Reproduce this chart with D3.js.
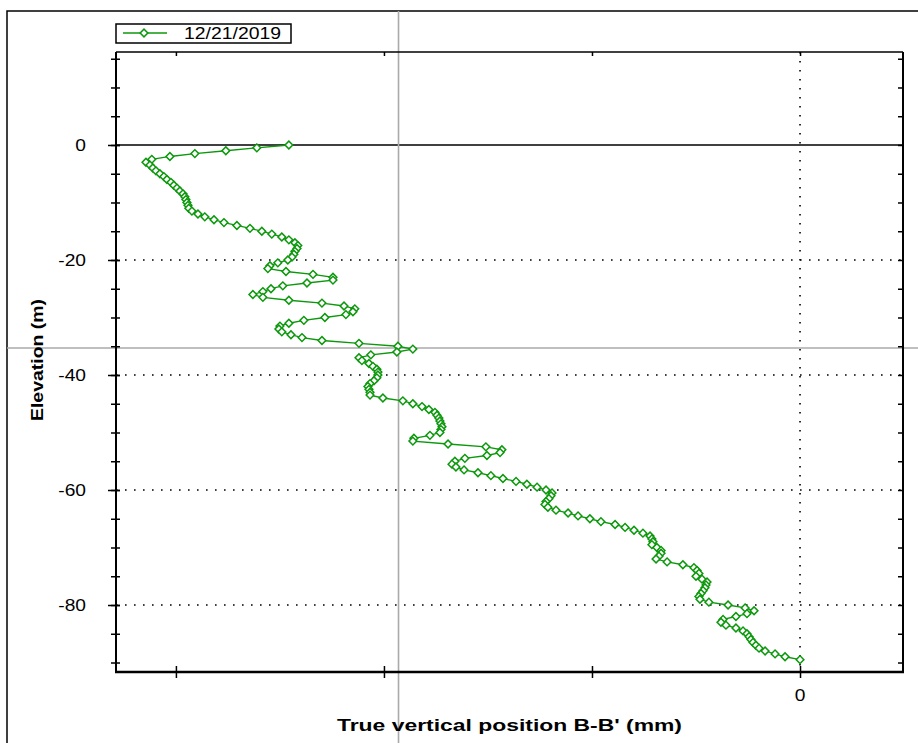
<!DOCTYPE html>
<html><head><meta charset="utf-8">
<script src="https://cdn.jsdelivr.net/npm/d3@7"></script>
<style>
body{margin:0;background:#fff}
svg{display:block}
text{font-family:"Liberation Sans",Arial,sans-serif;fill:#000}
</style>
</head><body>
<svg id="chart" width="918" height="743"></svg>
<script>
// ---------------- data ----------------
const seriesName = "12/21/2019";
const xTitle = "True vertical position B-B' (mm)";
const yTitle = "Elevation (m)";

const elevation = [
  0,-0.5,-1,-1.5,-2,-2.5,-3,-3.5,-4,-4.5,-5,-5.5,-6,-6.5,-7,-7.5,-8,-8.5,-9,-9.5,
  -10,-10.5,-11,-11.5,-12,-12.5,-13,-13.5,-14,-14.5,-15,-15.5,-16,-16.5,-17,-17.5,-18,-18.5,-19,-19.5,
  -20,-20.5,-21,-21.5,-22,-22.5,-23,-23.5,-24,-24.5,-25,-25.5,-26,-26.5,-27,-27.5,-28,-28.5,-29,-29.5,
  -30,-30.5,-31,-31.5,-32,-32.5,-33,-33.5,-34,-34.5,-35,-35.5,-36,-36.5,-37,-37.5,-38,-38.5,-39,-39.5,
  -40,-40.5,-41,-41.5,-42,-42.5,-43,-43.5,-44,-44.5,-45,-45.5,-46,-46.5,-47,-47.5,-48,-48.5,-49,-49.5,
  -50,-50.5,-51,-51.5,-52,-52.5,-53,-53.5,-54,-54.5,-55,-55.5,-56,-56.5,-57,-57.5,-58,-58.5,-59,-59.5,
  -60,-60.5,-61,-61.5,-62,-62.5,-63,-63.5,-64,-64.5,-65,-65.5,-66,-66.5,-67,-67.5,-68,-68.5,-69,-69.5,
  -70,-70.5,-71,-71.5,-72,-72.5,-73,-73.5,-74,-74.5,-75,-75.5,-76,-76.5,-77,-77.5,-78,-78.5,-79,-79.5,
  -80,-80.5,-81,-81.5,-82,-82.5,-83,-83.5,-84,-84.5,-85,-85.5,-86,-86.5,-87,-87.5,-88,-88.5,-89,-89.5
];

const position = [
  -24.57,-26.11,-27.60,-29.09,-30.29,-31.16,-31.44,-31.25,-31.11,-30.96,
  -30.77,-30.58,-30.43,-30.24,-30.10,-29.95,-29.81,-29.66,-29.57,-29.52,
  -29.47,-29.42,-29.38,-29.23,-28.94,-28.61,-28.17,-27.69,-27.07,-26.44,
  -25.87,-25.39,-24.91,-24.57,-24.28,-24.14,-24.18,-24.28,-24.33,-24.42,
  -24.62,-25.10,-25.48,-25.58,-24.71,-23.41,-22.45,-22.45,-23.70,-24.86,
  -25.43,-25.82,-26.30,-25.82,-24.57,-22.98,-21.92,-21.40,-21.49,-21.83,
  -22.84,-23.85,-24.57,-25.00,-25.05,-24.91,-24.47,-23.94,-22.98,-21.20,
  -19.33,-18.61,-19.38,-20.63,-21.20,-21.06,-20.72,-20.53,-20.34,-20.29,
  -20.29,-20.34,-20.48,-20.67,-20.77,-20.72,-20.67,-20.67,-20.05,-19.09,
  -18.61,-18.17,-17.84,-17.55,-17.45,-17.36,-17.31,-17.26,-17.21,-17.26,
  -17.31,-17.79,-18.56,-18.61,-16.92,-15.10,-14.33,-14.42,-15.05,-16.11,
  -16.59,-16.73,-16.54,-16.15,-15.48,-14.86,-14.28,-13.65,-13.13,-12.64,
  -12.21,-11.92,-11.97,-12.07,-12.21,-12.26,-12.12,-11.73,-11.15,-10.67,
  -10.10,-9.57,-8.89,-8.41,-7.98,-7.55,-7.21,-7.12,-7.07,-7.12,
  -6.88,-6.68,-6.68,-6.78,-6.92,-6.39,-5.63,-5.10,-4.95,-4.86,
  -5.00,-4.71,-4.47,-4.52,-4.57,-4.66,-4.76,-4.86,-4.81,-4.38,
  -3.46,-2.64,-2.21,-2.55,-3.08,-3.70,-3.80,-3.56,-3.08,-2.74,
  -2.55,-2.45,-2.36,-2.26,-2.12,-1.97,-1.68,-1.20,-0.72,0
];

const yTickValues = [0,-20,-40,-60,-80];
const yTickLabels = ["0","-20","-40","-60","-80"];
const yMinorValues = [15,10,5,0,-5,-10,-15,-20,-25,-30,-35,-40,-45,-50,-55,-60,-65,-70,-75,-80,-85,-90];
const yGridValues = [-20,-40,-60,-80];
const xTickValues = [-30,-20,-10,0];
const xTickLabels = ["","","","0"];
const xGridValues = [0];
const cursorPosition = [-19.3];
const cursorElevation = [-35.3];
const xDomain = [-32.88, 4.95];
const yDomain = [16.17, -91.65];

// ---------------- layout ----------------
const L = 116, R = 903, T = 52, B = 672;
const green = "#0c980c";
const svg = d3.select("#chart");

const x = d3.scaleLinear().domain(xDomain).range([L, R]);
const y = d3.scaleLinear().domain(yDomain).range([T, B]);

// outer frame
svg.append("path").attr("d", "M7,743V11H918").attr("fill","none").attr("stroke","#000").attr("stroke-width",1.5);

// dotted grid
svg.append("g").selectAll("line").data(yGridValues).join("line")
  .attr("x1", L).attr("x2", R).attr("y1", d=>y(d)).attr("y2", d=>y(d))
  .attr("stroke","#000").attr("stroke-width",1.6).attr("stroke-dasharray","1.6,7.4");
svg.append("g").selectAll("line").data(xGridValues).join("line")
  .attr("x1", d=>x(d)).attr("x2", d=>x(d)).attr("y1", T).attr("y2", B)
  .attr("stroke","#000").attr("stroke-width",1.6).attr("stroke-dasharray","1.6,7.4");

// zero line
svg.append("line").attr("x1", L).attr("x2", R).attr("y1", y(0)).attr("y2", y(0))
  .attr("stroke","#000").attr("stroke-width",1.4);

// cursor cross
svg.append("line").attr("x1", x(cursorPosition[0])).attr("x2", x(cursorPosition[0])).attr("y1", 11).attr("y2", 743)
  .attr("stroke","#aaa").attr("stroke-width",1.6);
svg.append("line").attr("x1", 7).attr("x2", 918).attr("y1", y(cursorElevation[0])).attr("y2", y(cursorElevation[0]))
  .attr("stroke","#aaa").attr("stroke-width",1.6);

// data
const pts = elevation.map((e,i)=>({e, p: position[i]}));
svg.append("path").datum(pts)
  .attr("d", d3.line().x(d=>x(d.p)).y(d=>y(d.e)))
  .attr("fill","none").attr("stroke",green).attr("stroke-width",1.3);
const diamond = d3.symbol(d3.symbolSquare, 30);
svg.append("g").selectAll("path").data(pts).join("path")
  .attr("d", diamond)
  .attr("transform", d=>`translate(${x(d.p)},${y(d.e)}) rotate(45)`)
  .attr("fill","#fff").attr("stroke",green).attr("stroke-width",1.5);

// axes frame
svg.append("line").attr("x1",L).attr("x2",R).attr("y1",T).attr("y2",T).attr("stroke","#000").attr("stroke-width",1.5);
svg.append("line").attr("x1",L).attr("x2",L).attr("y1",T).attr("y2",B).attr("stroke","#000").attr("stroke-width",2);
svg.append("line").attr("x1",R).attr("x2",R).attr("y1",T).attr("y2",B).attr("stroke","#000").attr("stroke-width",2);
svg.append("line").attr("x1",L-1).attr("x2",R+1).attr("y1",B).attr("y2",B).attr("stroke","#000").attr("stroke-width",2.5);

// left minor ticks (crossing)
svg.append("g").attr("transform",`translate(${L+4},0)`)
  .call(d3.axisLeft(y).tickValues(yMinorValues).tickSize(9).tickFormat(""))
  .call(g=>g.select(".domain").remove())
  .call(g=>g.selectAll("line").attr("stroke","#000").attr("stroke-width",1.5));
// left major ticks + labels
const yAx = svg.append("g").attr("transform",`translate(${L+4},0)`)
  .call(d3.axisLeft(y).tickValues(yTickValues).tickSize(12).tickPadding(22)
    .tickFormat((d,i)=>yTickLabels[i]))
  .call(g=>g.select(".domain").remove());
yAx.selectAll("line").attr("stroke","#000").attr("stroke-width",1.5);
yAx.selectAll("text").attr("font-size",16).attr("fill","#000")
  .attr("font-family","'Liberation Sans',Arial,sans-serif")
  .each(function(){
    const t = d3.select(this);
    const xx = +t.attr("x");
    t.attr("transform",`translate(${xx},0) scale(1.2,1) translate(${-xx},0)`);
  });
// right ticks inward
svg.append("g").attr("transform",`translate(${R},0)`)
  .call(d3.axisLeft(y).tickValues(yMinorValues).tickSize(5).tickFormat(""))
  .call(g=>g.select(".domain").remove())
  .call(g=>g.selectAll("line").attr("stroke","#000").attr("stroke-width",1.5));
// bottom ticks crossing + labels
const xAx = svg.append("g").attr("transform",`translate(0,${B+6})`)
  .call(d3.axisTop(x).tickValues(xTickValues).tickSize(12).tickFormat(()=>""))
  .call(g=>g.select(".domain").remove());
xAx.selectAll("line").attr("stroke","#000").attr("stroke-width",1.5);
svg.append("g").selectAll("text").data(xTickValues).join("text")
  .attr("x", d=>x(d)).attr("y", 701).attr("text-anchor","middle")
  .attr("font-size",16)
  .attr("transform", d=>`translate(${x(d)},0) scale(1.2,1) translate(${-x(d)},0)`)
  .text((d,i)=>xTickLabels[i]);
// top ticks inward
svg.append("g").attr("transform",`translate(0,${T})`)
  .call(d3.axisTop(x).tickValues(xTickValues).tickSize(-4).tickFormat(""))
  .call(g=>g.select(".domain").remove())
  .call(g=>g.selectAll("line").attr("stroke","#000").attr("stroke-width",1.5));

// axis titles
svg.append("text").attr("x", 337).attr("y", 731)
  .attr("font-size",17).attr("font-weight","bold")
  .attr("textLength",345).attr("lengthAdjust","spacingAndGlyphs")
  .text(xTitle);
svg.append("text").attr("transform","translate(43,421) rotate(-90)")
  .attr("font-size",17).attr("font-weight","bold")
  .attr("textLength",122).attr("lengthAdjust","spacingAndGlyphs")
  .text(yTitle);

// legend
const lg = svg.append("g");
lg.append("rect").attr("x",116).attr("y",24).attr("width",175).attr("height",19)
  .attr("fill","#fff").attr("stroke","#000").attr("stroke-width",1.5);
lg.append("line").attr("x1",123).attr("x2",167).attr("y1",33).attr("y2",33)
  .attr("stroke",green).attr("stroke-width",1.3);
lg.append("path").attr("d",diamond).attr("transform","translate(144,33) rotate(45)")
  .attr("fill","#fff").attr("stroke",green).attr("stroke-width",1.5);
lg.append("text").attr("x",184).attr("y",39).attr("font-size",17)
  .attr("textLength",97).attr("lengthAdjust","spacingAndGlyphs")
  .text(seriesName);
</script>
</body></html>
